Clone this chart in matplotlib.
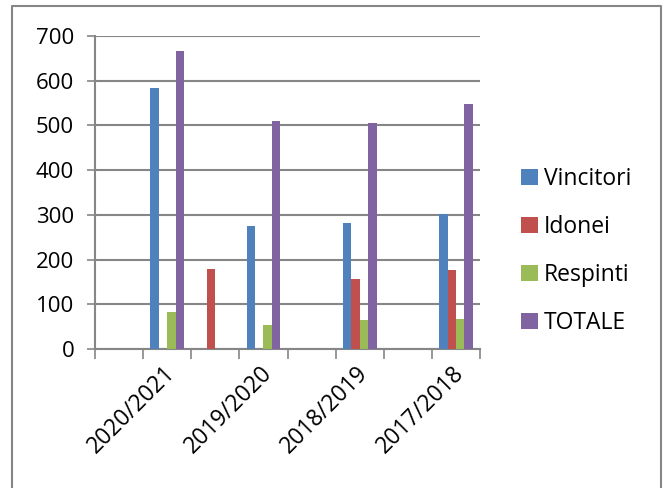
import numpy as np
import matplotlib
matplotlib.use("Agg")
import matplotlib.pyplot as plt
from matplotlib.lines import Line2D
from matplotlib.transforms import ScaledTranslation

# categorie (8 posizioni, etichetta solo su quelle pari)
categorie = ["", "2020/2021", "", "2019/2020", "", "2018/2019", "", "2017/2018"]
vincitori = [0, 583, 0, 276, 0, 281, 0, 302]
idonei = [0, 0, 179, 0, 0, 157, 0, 177]
respinti = [0, 83, 0, 53, 0, 65, 0, 67]
totale = [0, 667, 0, 511, 0, 505, 0, 549]

serie = [("Vincitori", vincitori, "#4F81BD"),
         ("Idonei", idonei, "#C0504D"),
         ("Respinti", respinti, "#9BBB59"),
         ("TOTALE", totale, "#8064A2")]

plt.rcParams['font.family'] = ['Open Sans', 'DejaVu Sans']
grigio = "#868686"
W, H = 663, 488

fig = plt.figure(figsize=(W / 100, H / 100), dpi=100)
ax = fig.add_axes([95 / W, 1 - 349 / H, 385 / W, 313 / H])

x = np.arange(len(categorie))
w = 0.175
for i, (nome, valori, colore) in enumerate(serie):
    ax.bar(x + (i - 1.5) * w, valori, width=w, color=colore, label=nome,
           edgecolor="none", zorder=3)

ax.set_xlim(-0.5, len(categorie) - 0.5)
ax.set_ylim(0, 700)
ax.set_yticks(range(0, 701, 100))
ax.grid(axis="y", color=grigio, linewidth=1.5, zorder=0)
ax.tick_params(axis="y", length=6, color=grigio, width=1.2, labelsize=16, pad=9)

ax.set_xticks(x)
ax.set_xticklabels(categorie, rotation=45, ha="right", va="center",
                   rotation_mode="anchor", fontsize=16.5)
ax.tick_params(axis="x", length=0, pad=15)
# sposta leggermente le etichette a destra
for lab in ax.get_xticklabels():
    lab.set_transform(lab.get_transform() + ScaledTranslation(0.05, 0, fig.dpi_scale_trans))
ax.set_xticks(np.arange(-0.5, len(categorie)), minor=True)
ax.tick_params(axis="x", which="minor", length=7, color=grigio, width=1.2)

for lato in ["top", "right"]:
    ax.spines[lato].set_visible(False)
for lato in ["left", "bottom"]:
    ax.spines[lato].set_color(grigio)
    ax.spines[lato].set_linewidth(1.5)

fig.legend(loc="center left", bbox_to_anchor=(500 / W, 1 - 251 / H),
           frameon=False, fontsize=16.5, handlelength=0.75, handleheight=0.75,
           handletextpad=0.25, labelspacing=1.05)

# cornice esterna (sinistra, alto, destra)
fig.add_artist(Line2D([12 / W, 12 / W, 661 / W, 661 / W],
                      [0, 1 - 6 / H, 1 - 6 / H, 0], transform=fig.transFigure,
                      color=grigio, linewidth=1.5))

fig.savefig("out.png", dpi=100)
